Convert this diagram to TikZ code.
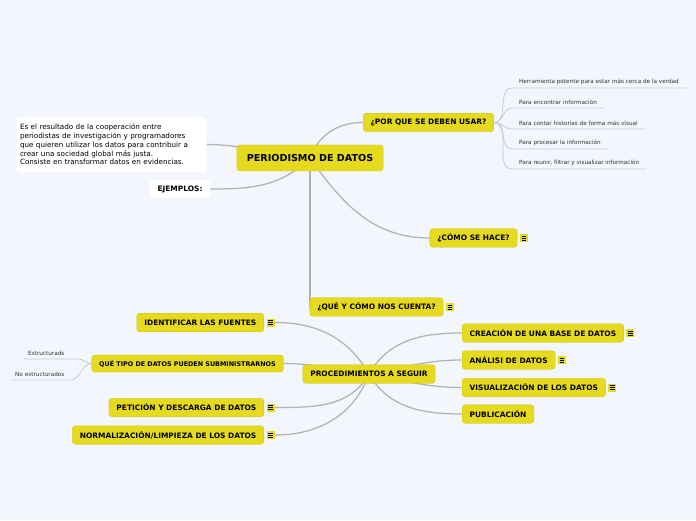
\documentclass[tikz,border=0pt]{standalone}
\usepackage{fontspec}
\setmainfont{DejaVu Sans}
\usetikzlibrary{positioning}
\definecolor{mapyellow}{RGB}{230,218,30}
\definecolor{bgblue}{RGB}{243,246,253}
\definecolor{linkgray}{RGB}{178,178,182}
\definecolor{leafgray}{RGB}{200,202,212}
\definecolor{leaftext}{RGB}{50,50,50}
\pgfdeclarelayer{background}
\pgfsetlayers{background,main}
\tikzset{
  topic/.style={fill=mapyellow, draw=mapyellow!88!black, line width=0.3pt, rounded corners=3pt,
    font=\fontsize{7.45}{9}\selectfont\bfseries, minimum height=18.5pt, inner xsep=7.5pt},
  central/.style={topic, font=\fontsize{9.6}{11}\selectfont\bfseries, minimum height=26pt, inner xsep=10pt},
  note/.style={fill=white, rounded corners=3pt, font=\fontsize{7.2}{8.7}\selectfont},
  leaf/.style={font=\fontsize{5.7}{6.5}\selectfont, text=leaftext, inner xsep=7pt, inner ysep=3pt},
  link/.style={draw=linkgray, line width=1.25pt},
  leaflink/.style={draw=leafgray, line width=0.8pt},
  icon/.style={fill=mapyellow, minimum size=8pt, inner sep=0pt, right=2.5pt of #1,
    path picture={\foreach \k in {-2,0,2}
      \draw[line width=0.55pt] ([xshift=-2.3pt,yshift=\k pt]path picture bounding box.center) -- ++(4.6pt,0);}}
}
\begin{document}
\begin{tikzpicture}[x=1pt,y=1pt]
\begin{pgfonlayer}{background}
\fill[bgblue] (0,0) rectangle (696,520);
\end{pgfonlayer}
\useasboundingbox (0,0) rectangle (696,520);
% centre
\node[central] (main) at (310,362) {PERIODISMO DE DATOS};
\node[note, text width=183pt, align=left, minimum height=55pt] (desc) at (111.5,375.5)
  {Es el resultado de la cooperación entre\\ periodistas de investigación y programadores\\
   que quieren utilizar los datos para contribuir a\\ crear una sociedad global más justa.\\
   Consiste en transformar datos en evidencias.};
\node[note, font=\fontsize{7.45}{9}\selectfont\bfseries, minimum width=60pt, minimum height=18pt] (ej) at (180,331) {EJEMPLOS:};
\node[topic] (why) at (428.5,397.5) {¿POR QUE SE DEBEN USAR?};
\node[topic] (how) at (473.5,282) {¿CÓMO SE HACE?};
\node[icon=how] (howi) {};
\node[topic] (tell) at (376.5,213) {¿QUÉ Y CÓMO NOS CUENTA?};
\node[icon=tell] (telli) {};
% por que
\node[leaf, anchor=south west] (v1) at (512,432) {Herramienta potente para estar más cerca de la verdad};
\node[leaf, anchor=south west] (v2) at (512,412) {Para encontrar información};
\node[leaf, anchor=south west] (v3) at (512,391) {Para contar historias de forma más visual};
\node[leaf, anchor=south west] (v4) at (512,371) {Para procesar la información};
\node[leaf, anchor=south west] (v5) at (512,351) {Para reunir, filtrar y visualizar información};
% procedimientos
\node[topic] (proc) at (369,146) {PROCEDIMIENTOS A SEGUIR};
\node[topic, anchor=east] (ident) at (264,197.5) {IDENTIFICAR LAS FUENTES};
\node[icon=ident] (identi) {};
\node[topic, font=\fontsize{6.4}{8}\selectfont\bfseries, minimum height=17pt] (tipo) at (187.5,156.5) {QUÉ TIPO DE DATOS PUEDEN SUBMINISTRARNOS};
\node[leaf, anchor=south west, inner xsep=4pt, text width=46pt, align=left] (es1) at (24,161) {Estructurads};
\node[leaf, anchor=south west, inner xsep=4pt, text width=51pt, align=left] (es2) at (11,140) {No estructurados};
\node[topic, anchor=east] (pet) at (264,112.5) {PETICIÓN Y DESCARGA DE DATOS};
\node[icon=pet] (peti) {};
\node[topic, anchor=east] (norm) at (264,85) {NORMALIZACIÓN/LIMPIEZA DE LOS DATOS};
\node[icon=norm] (normi) {};
\node[topic, anchor=west] (crea) at (462,187) {CREACIÓN DE UNA BASE DE DATOS};
\node[icon=crea] (creai) {};
\node[topic, anchor=west] (anal) at (462,160) {ANÁLISI DE DATOS};
\node[icon=anal] (anali) {};
\node[topic, anchor=west] (vis) at (462,132.5) {VISUALIZACIÓN DE LOS DATOS};
\node[icon=vis] (visi) {};
\node[topic, anchor=west] (pub) at (462,106) {PUBLICACIÓN};
\begin{pgfonlayer}{background}
\draw[link] (main.center) to[out=178,in=0] (desc.east);
\draw[link] (main.center) to[out=225,in=0] (ej.east);
\draw[link] (main.center) to[out=70,in=180] (why.west);
\draw[link] (main.center) to[out=-55,in=180] (how.west);
\draw[link] (main.center) |- (tell.west);
\foreach \v in {v1,v2,v3,v4,v5}
  \draw[leaflink] (why.east) to[out=0,in=180] (\v.south west) -- (\v.south east);
\draw[leaflink] (tipo.west) to[out=180,in=0] (es1.south east) -- (es1.south west);
\draw[leaflink] (tipo.west) to[out=180,in=0] (es2.south east) -- (es2.south west);
\draw[link] (proc.center) to[out=120,in=0] (identi.east);
\draw[link] (proc.center) to[out=175,in=0] (tipo.east);
\draw[link] (proc.center) to[out=-120,in=0] (peti.east);
\draw[link] (proc.center) to[out=-110,in=0] (normi.east);
\draw[link] (proc.center) to[out=60,in=180] (crea.west);
\draw[link] (proc.center) to[out=10,in=180] (anal.west);
\draw[link] (proc.center) to[out=-10,in=180] (vis.west);
\draw[link] (proc.center) to[out=-60,in=180] (pub.west);
\end{pgfonlayer}
\end{tikzpicture}
\end{document}
